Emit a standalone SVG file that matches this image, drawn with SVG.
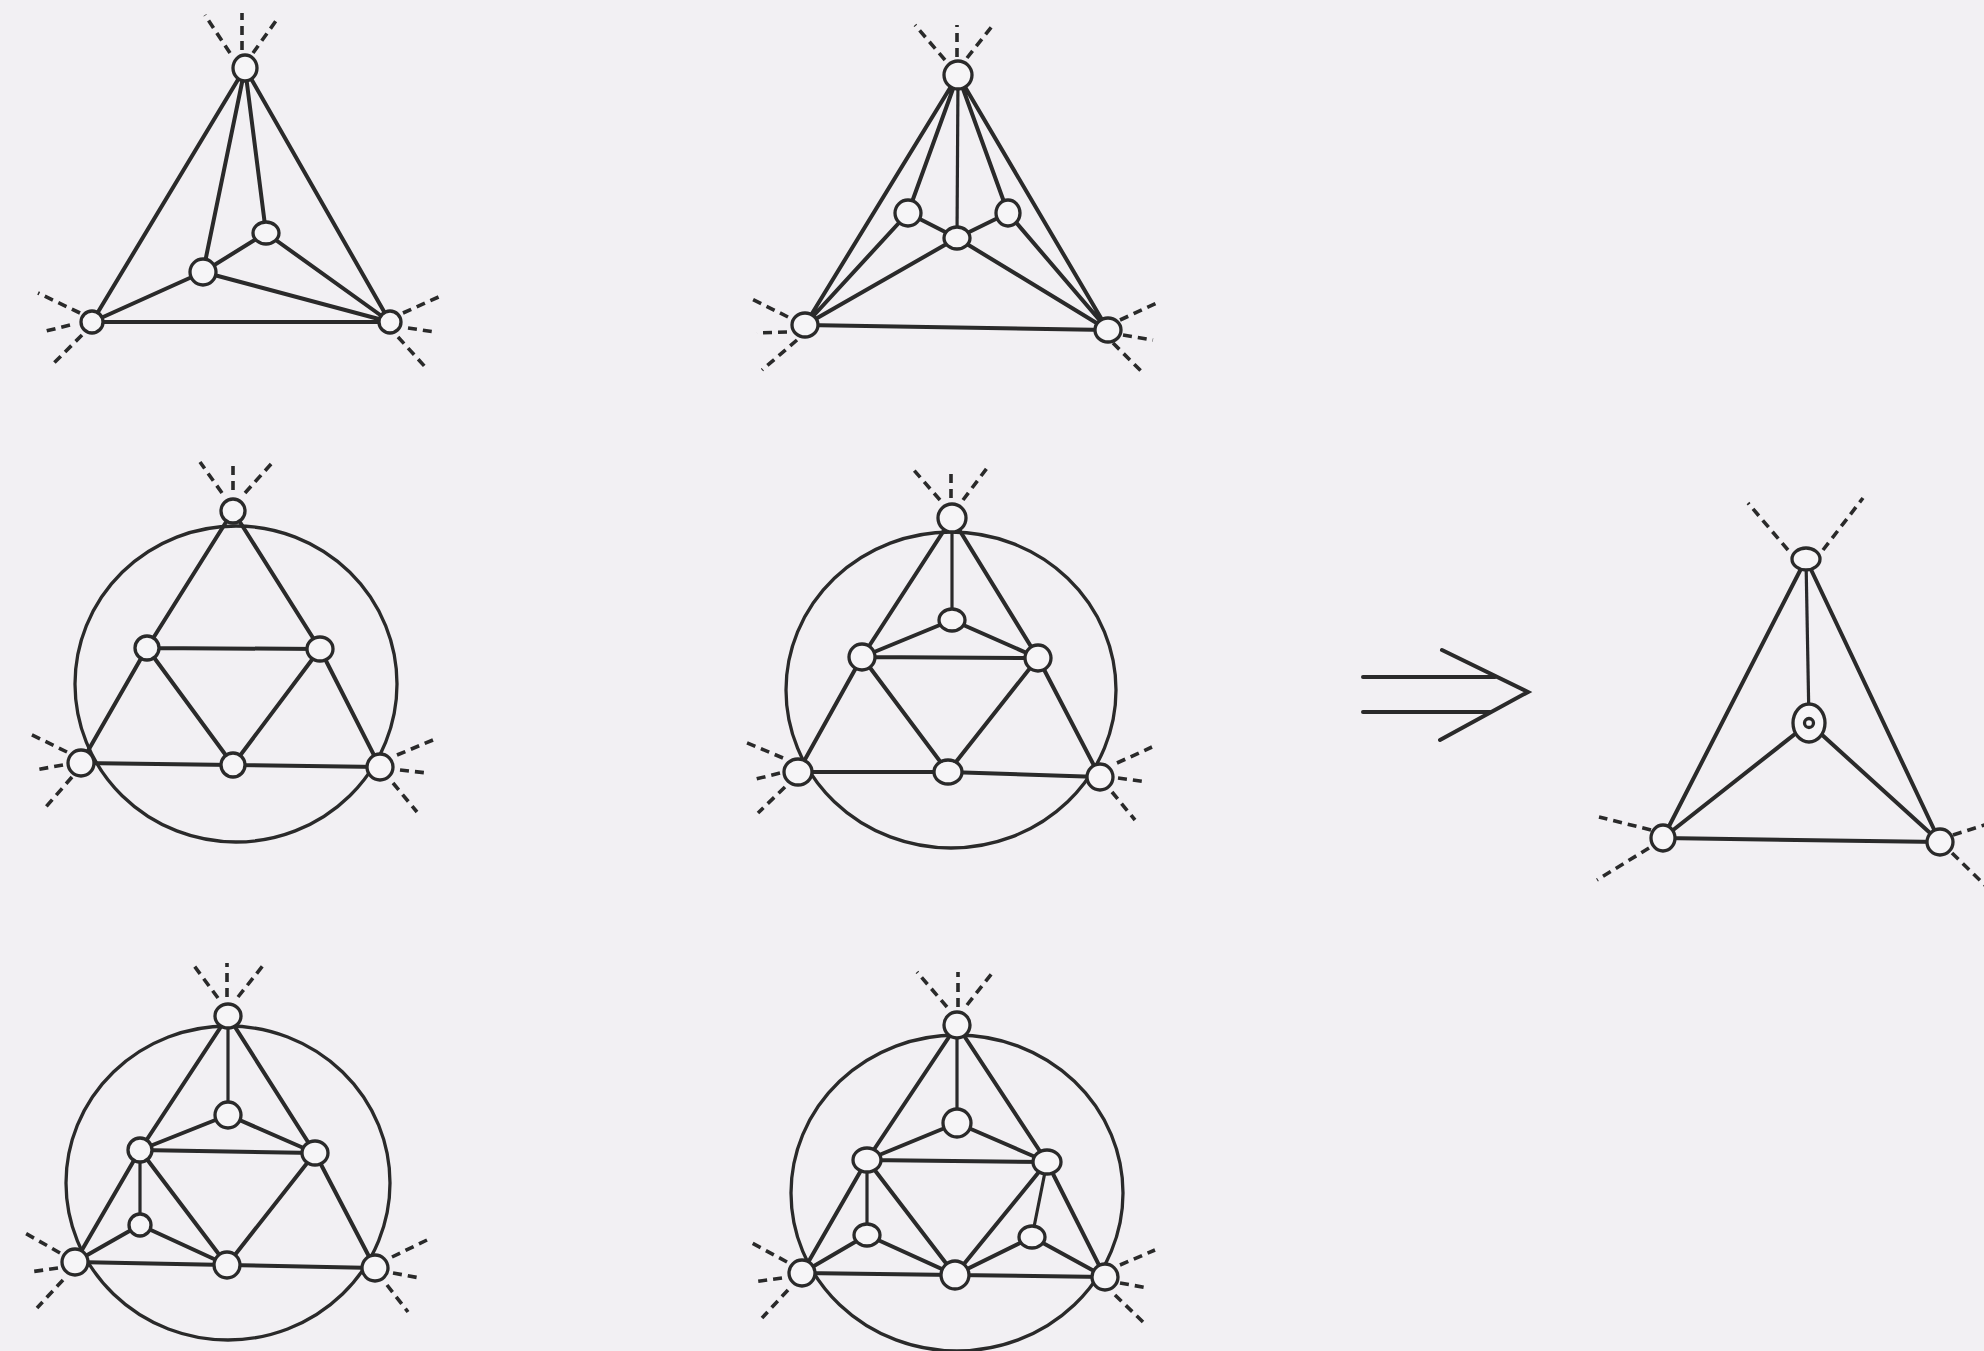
<svg xmlns="http://www.w3.org/2000/svg" width="1984" height="1351" viewBox="0 0 1984 1351">
<style>
.e{stroke:#2a2a2a;stroke-width:4;fill:none;stroke-linecap:round}
.t{stroke:#2a2a2a;stroke-width:3.2;fill:none}
.d{stroke:#2a2a2a;stroke-width:3.6;fill:none;stroke-dasharray:9 6}
.n{fill:#f6f5f7;stroke:#2a2a2a;stroke-width:3.3}
.ring{fill:none;stroke:#2a2a2a;stroke-width:3.3}
</style>
<rect width="1984" height="1351" fill="#f2f0f3"/>
<g id="rings">
<ellipse class="ring" cx="236" cy="684" rx="161" ry="158"/>
<ellipse class="ring" cx="951" cy="690" rx="165" ry="158"/>
<ellipse class="ring" cx="228" cy="1183" rx="162" ry="157"/>
<ellipse class="ring" cx="957" cy="1193" rx="166" ry="158"/>
</g>
<g id="connectors">
<!-- D1 -->
<path class="e" d="M245,68L92,322M245,68L390,322M92,322L390,322M245,68L203,272M245,68L266,233M203,272L92,322M203,272L390,322M203,272L266,233M266,233L390,322"/>
<path class="d" d="M230,53L205,15M242,50L242,13M253,53L278,18M80,313L38,293M70,325L42,332M82,335L52,365M403,313L443,295M408,328L435,332M398,337L428,370"/>
<!-- D2 -->
<path class="e" d="M958,75L805,325M958,75L1108,330M805,325L1108,330M958,75L908,213M958,75L1008,213M908,213L805,325M908,213L957,238M957,238L805,325M1008,213L957,238M1008,213L1108,330M957,238L1108,330"/>
<path class="t" d="M958,75L957,238"/>
<path class="d" d="M945,60L915,25M957,57L957,25M967,58L993,25M788,317L750,298M787,332L757,333M797,340L762,370M1120,320L1157,303M1123,335L1153,340M1113,343L1143,373"/>
<!-- D3 -->
<path class="e" d="M233,511L147,648M147,648L81,763M233,511L320,649M320,649L380,767M147,648L320,649M147,648L233,765M320,649L233,765M81,763L233,765M233,765L380,767"/>
<path class="d" d="M222,493L200,462M233,490L233,462M245,493L272,463M67,752L28,733M63,765L35,770M72,777L45,808M397,755L433,740M400,770L427,773M393,783L417,812"/>
<!-- D4 -->
<path class="e" d="M952,518L862,657M952,518L1038,658M952,620L862,657M952,620L1038,658M862,657L1038,658M862,657L798,772M1038,658L1100,777M862,657L948,772M1038,658L948,772M798,772L948,772M948,772L1100,777"/>
<path class="t" d="M952,518L952,620"/>
<path class="d" d="M940,500L912,468M951,498L951,468M963,500L987,468M783,758L745,742M780,773L752,780M785,787L758,813M1117,763L1152,747M1118,778L1147,782M1112,792L1135,820"/>
<!-- D5 -->
<path class="e" d="M228,1016L140,1150M228,1016L315,1153M228,1115L140,1150M228,1115L315,1153M140,1150L315,1153M140,1150L75,1262M315,1153L375,1268M140,1150L227,1265M315,1153L227,1265M75,1262L227,1265M227,1265L375,1268M140,1225L75,1262M140,1225L227,1265"/>
<path class="t" d="M228,1016L228,1115M140,1150L140,1225"/>
<path class="d" d="M218,998L192,963M227,997L227,963M238,997L265,963M60,1253L25,1233M58,1268L30,1272M63,1280L37,1308M392,1257L427,1240M393,1273L420,1278M387,1285L408,1312"/>
<!-- D6 -->
<path class="e" d="M957,1025L867,1160M957,1025L1047,1162M957,1123L867,1160M957,1123L1047,1162M867,1160L1047,1162M867,1160L802,1273M1047,1162L1105,1277M867,1160L955,1275M1047,1162L955,1275M802,1273L955,1275M955,1275L1105,1277M867,1235L802,1273M867,1235L955,1275M1032,1237L955,1275M1032,1237L1105,1277"/>
<path class="t" d="M957,1025L957,1123M867,1160L867,1235M1047,1162L1032,1237"/>
<path class="d" d="M947,1007L917,972M958,1007L958,972M967,1005L993,972M787,1262L752,1243M782,1278L753,1282M788,1290L762,1318M1120,1265L1155,1250M1120,1283L1148,1288M1115,1295L1143,1322"/>
<!-- D7 -->
<path class="e" d="M1806,559L1663,838M1806,559L1940,842M1809,723L1663,838M1809,723L1940,842M1663,838L1940,842"/>
<path class="t" d="M1806,559L1809,723"/>
<path class="d" d="M1788,550L1748,503M1823,550L1863,498M1651,830L1599,817M1649,848L1597,880M1953,835L2000,820M1952,853L1990,890"/>
<!-- implication arrow -->
<path class="e" d="M1363,677L1495,677M1363,712L1490,712"/>
<polyline class="e" points="1442,650 1528,692 1440,740"/>
</g>
<g id="d1">
<ellipse id="d1-top" class="n" cx="245" cy="68" rx="12" ry="13"/>
<ellipse id="d1-left" class="n" cx="92" cy="322" rx="11" ry="11"/>
<ellipse id="d1-right" class="n" cx="390" cy="322" rx="11" ry="11"/>
<ellipse id="d1-a" class="n" cx="203" cy="272" rx="13" ry="13"/>
<ellipse id="d1-b" class="n" cx="266" cy="233" rx="13" ry="11"/>
</g>
<g id="d2">
<ellipse id="d2-top" class="n" cx="958" cy="75" rx="14" ry="14"/>
<ellipse id="d2-left" class="n" cx="805" cy="325" rx="13" ry="12"/>
<ellipse id="d2-right" class="n" cx="1108" cy="330" rx="13" ry="12"/>
<ellipse id="d2-a" class="n" cx="908" cy="213" rx="13" ry="13"/>
<ellipse id="d2-c" class="n" cx="957" cy="238" rx="13" ry="11"/>
<ellipse id="d2-b" class="n" cx="1008" cy="213" rx="12" ry="13"/>
</g>
<g id="d3">
<ellipse id="d3-top" class="n" cx="233" cy="511" rx="12" ry="12"/>
<ellipse id="d3-left" class="n" cx="81" cy="763" rx="13" ry="13"/>
<ellipse id="d3-right" class="n" cx="380" cy="767" rx="13" ry="13"/>
<ellipse id="d3-a" class="n" cx="147" cy="648" rx="12" ry="12"/>
<ellipse id="d3-b" class="n" cx="320" cy="649" rx="13" ry="12"/>
<ellipse id="d3-m" class="n" cx="233" cy="765" rx="12" ry="12"/>
</g>
<g id="d4">
<ellipse id="d4-top" class="n" cx="952" cy="518" rx="14" ry="14"/>
<ellipse id="d4-left" class="n" cx="798" cy="772" rx="14" ry="13"/>
<ellipse id="d4-right" class="n" cx="1100" cy="777" rx="13" ry="13"/>
<ellipse id="d4-i" class="n" cx="952" cy="620" rx="13" ry="11"/>
<ellipse id="d4-a" class="n" cx="862" cy="657" rx="13" ry="13"/>
<ellipse id="d4-b" class="n" cx="1038" cy="658" rx="13" ry="13"/>
<ellipse id="d4-m" class="n" cx="948" cy="772" rx="14" ry="12"/>
</g>
<g id="d5">
<ellipse id="d5-top" class="n" cx="228" cy="1016" rx="13" ry="12"/>
<ellipse id="d5-left" class="n" cx="75" cy="1262" rx="13" ry="13"/>
<ellipse id="d5-right" class="n" cx="375" cy="1268" rx="13" ry="13"/>
<ellipse id="d5-i" class="n" cx="228" cy="1115" rx="13" ry="13"/>
<ellipse id="d5-a" class="n" cx="140" cy="1150" rx="12" ry="12"/>
<ellipse id="d5-b" class="n" cx="315" cy="1153" rx="13" ry="12"/>
<ellipse id="d5-m" class="n" cx="227" cy="1265" rx="13" ry="13"/>
<ellipse id="d5-c" class="n" cx="140" cy="1225" rx="11" ry="11"/>
</g>
<g id="d6">
<ellipse id="d6-top" class="n" cx="957" cy="1025" rx="13" ry="13"/>
<ellipse id="d6-left" class="n" cx="802" cy="1273" rx="13" ry="13"/>
<ellipse id="d6-right" class="n" cx="1105" cy="1277" rx="13" ry="13"/>
<ellipse id="d6-i" class="n" cx="957" cy="1123" rx="14" ry="14"/>
<ellipse id="d6-a" class="n" cx="867" cy="1160" rx="14" ry="12"/>
<ellipse id="d6-b" class="n" cx="1047" cy="1162" rx="14" ry="12"/>
<ellipse id="d6-m" class="n" cx="955" cy="1275" rx="14" ry="14"/>
<ellipse id="d6-c" class="n" cx="867" cy="1235" rx="13" ry="11"/>
<ellipse id="d6-d" class="n" cx="1032" cy="1237" rx="13" ry="11"/>
</g>
<g id="d7">
<ellipse id="d7-top" class="n" cx="1806" cy="559" rx="14" ry="11"/>
<g id="d7-center">
<ellipse class="n" cx="1809" cy="723" rx="16" ry="19"/>
<circle class="n" cx="1809" cy="723" r="4.5"/>
</g>
<ellipse id="d7-left" class="n" cx="1663" cy="838" rx="12" ry="13"/>
<ellipse id="d7-right" class="n" cx="1940" cy="842" rx="13" ry="13"/>
</g>
</svg>
